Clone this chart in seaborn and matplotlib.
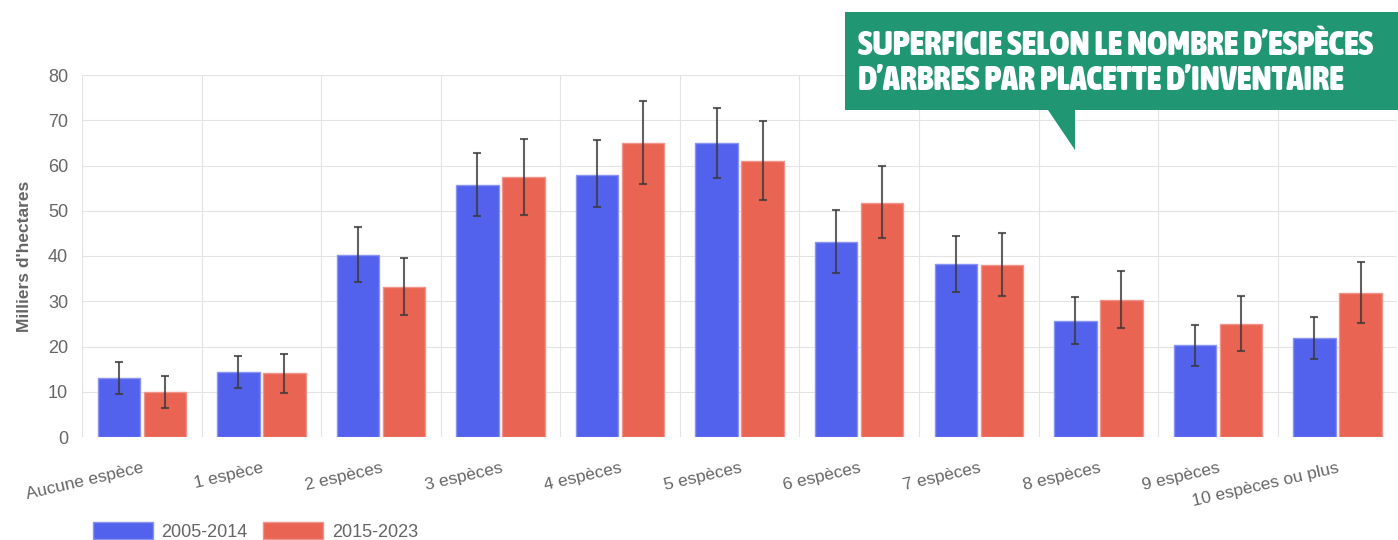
import numpy as np
import pandas as pd
import matplotlib
matplotlib.use("Agg")
import matplotlib.pyplot as plt
import matplotlib.font_manager as fm
from matplotlib.patches import Patch, Polygon
import seaborn as sns

# Données (milliers d'hectares)
categories = ["Aucune espèce", "1 espèce", "2 espèces", "3 espèces", "4 espèces",
              "5 espèces", "6 espèces", "7 espèces", "8 espèces", "9 espèces",
              "10 espèces ou plus"]
periodes = ["2005-2014", "2015-2023"]

val_2005 = [13.0, 14.4, 40.2, 55.8, 58.0, 64.9, 43.0, 38.2, 25.7, 20.3, 21.9]
bas_2005 = [9.4, 10.8, 34.3, 48.8, 50.8, 57.2, 36.3, 32.0, 20.6, 15.8, 17.3]
haut_2005 = [16.6, 18.0, 46.3, 62.8, 65.6, 72.8, 50.1, 44.5, 30.9, 24.8, 26.6]

val_2015 = [10.0, 14.1, 33.2, 57.4, 65.0, 61.0, 51.8, 38.1, 30.3, 25.0, 31.9]
bas_2015 = [6.5, 9.8, 27.0, 49.1, 56.0, 52.4, 43.9, 31.1, 24.0, 19.0, 25.3]
haut_2015 = [13.5, 18.3, 39.5, 65.9, 74.2, 69.8, 59.9, 45.1, 36.7, 31.1, 38.6]

titre = "SUPERFICIE SELON LE NOMBRE D\u2019ESPÈCES\nD\u2019ARBRES PAR PLACETTE D\u2019INVENTAIRE"

BLEU = "#5262EC"
ROUGE = "#E96452"
GRIS = "#666666"
GRILLE = "#e3e3e3"

df = pd.DataFrame({
    "categorie": categories * 2,
    "valeur": val_2005 + val_2015,
    "periode": [periodes[0]] * len(categories) + [periodes[1]] * len(categories),
})

sns.set_style("white")
plt.rcParams["font.family"] = ["Liberation Sans", "DejaVu Sans"]

LARGEURS = {"ultra-condensed": 100, "extra-condensed": 200, "condensed": 300,
            "semi-condensed": 400, "normal": 500}


def police_etroite():
    # la police grasse la plus condensée parmi celles installées
    choix = []
    for f in fm.fontManager.ttflist:
        num = f.stretch if isinstance(f.stretch, int) else LARGEURS.get(f.stretch, 500)
        if "Narrow" in f.name or "Condensed" in f.name:
            num = min(num, 300)
        poids = f.weight if isinstance(f.weight, int) else (700 if "bold" in str(f.weight) else 400)
        if num < 500 and poids >= 600:
            choix.append((num, -poids, f.fname))
    return sorted(choix)[0][2] if choix else None


W, H = 1398, 540
fig, ax = plt.subplots(figsize=(W / 100, H / 100), dpi=100)
fig.subplots_adjust(left=82 / W, right=0.9995, bottom=1 - 437 / H, top=1 - 75 / H)

sns.barplot(data=df, x="categorie", y="valeur", hue="periode", order=categories,
            hue_order=periodes, palette=[BLEU, ROUGE], saturation=1, width=0.77,
            gap=0.08, errorbar=None, legend=False, ax=ax, zorder=2)

bords = ["#8893f2", "#f0938a"]
for cont, bord in zip(ax.containers, bords):
    for b in cont:
        b.set_edgecolor(bord)
        b.set_linewidth(1)

# barres d'erreur
for cont, v, lo, hi in zip(ax.containers, [val_2005, val_2015],
                           [bas_2005, bas_2015], [haut_2005, haut_2015]):
    xs = [b.get_x() + b.get_width() / 2 for b in cont]
    v = np.array(v)
    yerr = [v - np.array(lo), np.array(hi) - v]
    ax.errorbar(xs, v, yerr=yerr, fmt="none", ecolor="#3a3a3a", alpha=0.8,
                elinewidth=1.5, capsize=3, capthick=1.5, zorder=3)

ax.set_ylim(0, 80)
ax.set_xlim(-0.5, len(categories) - 0.5)
ax.set_yticks(np.arange(0, 81, 10))
ax.set_xticks(np.arange(-0.5, len(categories), 1), minor=True)

ax.grid(axis="y", which="major", color=GRILLE, lw=0.8, zorder=0)
ax.grid(axis="x", which="minor", color=GRILLE, lw=0.8, zorder=0)
ax.set_axisbelow(True)
for s in ax.spines.values():
    s.set_visible(False)

ax.tick_params(axis="y", which="major", length=6, width=0.8, color=GRILLE,
               labelcolor=GRIS, labelsize=13, pad=4)
ax.tick_params(axis="x", which="major", length=0, labelcolor=GRIS,
               labelsize=12.5, pad=17)
ax.tick_params(axis="x", which="minor", length=6, width=0.8, color=GRILLE)
plt.setp(ax.get_xticklabels(), rotation=13, ha="right", va="top",
         rotation_mode="anchor")

ax.set_xlabel("")
ax.set_ylabel("Milliers d'hectares", fontsize=12.5, fontweight="bold", color=GRIS)
ax.yaxis.set_label_coords(-0.038, 0.5)

# légende en bas à gauche
poignees = [Patch(facecolor=BLEU, edgecolor=bords[0]),
            Patch(facecolor=ROUGE, edgecolor=bords[1])]
fig.legend(poignees, periodes, loc="upper left", bbox_to_anchor=(93 / W, 1 - 522 / H),
           ncol=2, frameon=False, borderpad=0, borderaxespad=0, fontsize=13,
           labelcolor=GRIS, handlelength=3.3, handleheight=1.1,
           handletextpad=0.5, columnspacing=0.85)

# bulle du titre
pts = [(845, 12), (1398, 12), (1398, 110), (1075, 110), (1075, 150),
       (1048, 110), (845, 110)]
bulle = Polygon([(x / W, 1 - y / H) for x, y in pts], closed=True,
                transform=fig.transFigure, facecolor="#209672", edgecolor="none",
                zorder=10)
fig.add_artist(bulle)

chemin = police_etroite()
if chemin:
    fp = fm.FontProperties(fname=chemin, size=30)
else:
    fp = fm.FontProperties(family="Liberation Sans", weight="bold", size=30)
t = fig.text(858 / W, 1 - 63 / H, titre, ha="left", va="center", color="white",
             fontproperties=fp, linespacing=1.05, zorder=11)

# ajuste la taille pour que le titre tienne dans la bulle
fig.canvas.draw()
larg = t.get_window_extent().width
if larg > 0:
    t.set_fontsize(min(30, 30 * 516 / larg))

fig.savefig("out.png", dpi=100)
